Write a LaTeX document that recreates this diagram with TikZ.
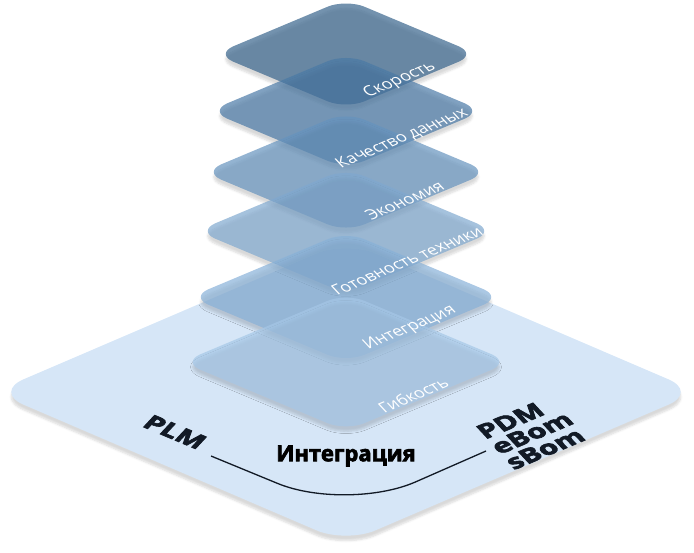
\documentclass[tikz,border=0pt]{standalone}
\usepackage{fontspec}
\setmainfont{Open Sans}
\newfontfamily\heavyfont[BoldFeatures={FakeBold=3}]{Open Sans}
\usetikzlibrary{shadows.blur}

\definecolor{baseblue}{RGB}{214,230,247}
\definecolor{layerA}{RGB}{56,100,140}
\definecolor{layerB}{RGB}{74,121,166}
\definecolor{layerC}{RGB}{101,147,190}
\definecolor{layerD}{RGB}{127,168,207}
\definecolor{layerE}{RGB}{136,177,216}
\definecolor{layerF}{RGB}{165,199,231}
\definecolor{inkdark}{RGB}{18,26,38}

\tikzset{
  softshadow/.style={blur shadow={shadow xshift=0pt, shadow yshift=-5pt, shadow opacity=15, shadow blur steps=6}},
  plate/.style={fill=#1, fill opacity=0.7, rounded corners=20pt, softshadow},
  platelabel/.style={text=white, inner sep=0pt, font=\fontsize{16.5}{16}\selectfont, cm={0.922,0.387,-0.68,0.73,(0,0)}},
  sidetag/.style={text=inkdark, inner sep=0pt, font=\fontsize{23}{21}\selectfont\heavyfont\bfseries},
}

\def\platelist{54/131/layerA/Скорость, 111/137/layerB/Качество данных, 172/143/layerC/Экономия, 231/149/layerD/Готовность техники, 297/156/layerE/Интеграция, 362/164/layerF/Гибкость}

\begin{document}
\begin{tikzpicture}[x=1pt, y=-1pt]
  \useasboundingbox (0,0) rectangle (694,552);
  % base plate
  \path[fill=baseblue, rounded corners=32pt, softshadow]
    (-6,392) -- (346,241) -- (698,392) -- (346,543) -- cycle;
  % stacked plates
  \foreach \cy/\hw/\col/\lbl in \platelist
    \path[plate=\col] ({346-\hw},\cy) -- (346,{\cy-0.42*\hw}) -- ({346+\hw},\cy) -- (346,{\cy+0.42*\hw}) -- cycle;
  \foreach \cy/\hw/\col/\lbl [count=\i] in \platelist
    \node[platelabel] (lab\i) at ({346+0.41*\hw},{\cy+0.2*\hw}) {\lbl};
  % bottom texts
  \node[sidetag, cm={1.15,-0.483,0.68,0.73,(0,0)}] (plm) at (175,432) {PLM};
  \node[sidetag, align=left, cm={1.15,0.483,-0.68,0.73,(0,0)}] (pdm) at (532,433) {PDM\\eBom\\sBom};
  \node[text=black, inner sep=0pt, font=\fontsize{22}{22}\selectfont\heavyfont\bfseries] (integ) at (346,456) {Интеграция};
  \coordinate (plmend) at (211,456);
  \coordinate (pdmend) at (486,451);
  \draw[inkdark, line width=1.3pt, rounded corners=75pt] (plmend) -- (347,512) -- (pdmend);
\end{tikzpicture}
\end{document}
